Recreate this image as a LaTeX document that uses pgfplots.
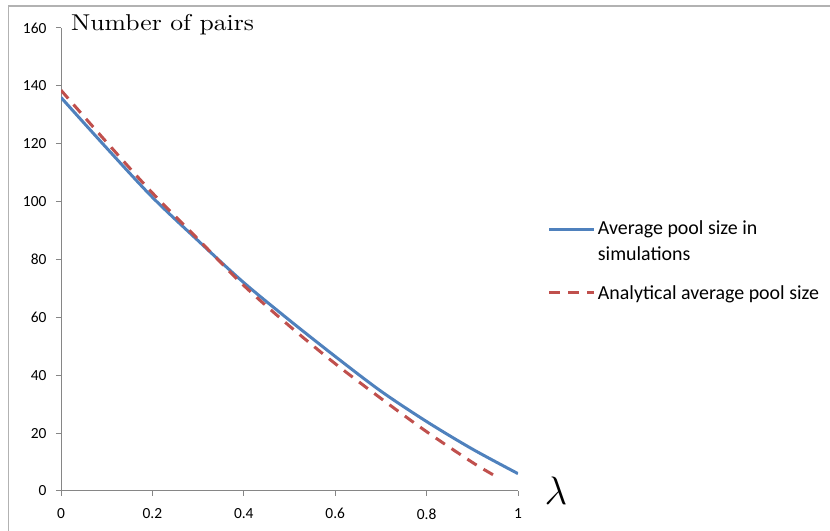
\documentclass[border=0pt]{standalone}
\usepackage{pgfplots}
\pgfplotsset{compat=1.18}
\usepackage{graphicx}
\usepackage{fontspec}
\newfontfamily\calibri{Carlito}
\newfontfamily\lmten{lmroman10-regular.otf}
\definecolor{simblue}{HTML}{4F81BD}
\definecolor{anared}{HTML}{C0504D}
\definecolor{axisgray}{HTML}{868686}
\begin{document}
\begin{tikzpicture}
\useasboundingbox (0,0) rectangle (830bp,531bp);
% chart frame (top and left edges only are visible)
\draw[gray!60, line width=1.2bp] (8.5bp,0bp) -- (8.5bp,525bp) -- (830bp,525bp);
\begin{axis}[
    at={(61bp,40bp)}, anchor=south west,
    scale only axis,
    width=457bp, height=463bp,
    xmin=0, xmax=1, ymin=0, ymax=160,
    xtick={0,0.2,...,1}, ytick={0,20,...,160},
    axis x line*=bottom, axis y line*=left,
    axis line style={axisgray, line width=1bp, -},
    tick style={axisgray, line width=1bp},
    tick align=outside,
    major tick length=5bp,
    /pgf/number format/assume math mode=true,
    tick label style={font=\calibri\fontsize{15.5}{15.5}\selectfont, black},
    yticklabel style={xshift=-6bp},
    xticklabel style={yshift=-9bp},
    xlabel={\scalebox{1.6}{\fontsize{24.88}{25}\selectfont$\lambda$}},
    xlabel style={at={(axis description cs:1.083,0.0)}, anchor=center},
    legend style={at={(axis description cs:1.065,0.592)}, anchor=north west,
        draw=none, fill=none, font=\calibri\fontsize{20}{26}\selectfont,
        cells={align=left, anchor=west}, row sep=19bp,
        inner xsep=0pt},
    legend image code/.code={\draw[#1] (0bp,0bp) -- (45bp,0bp);},
]
\addplot[simblue, line width=3bp, smooth,
    legend image code/.code={\draw[simblue, line width=3bp] (0bp,12bp) -- (45bp,12bp);}] coordinates {
    (0,136) (0.1,118.5) (0.2,101.5) (0.3,86.5) (0.4,72) (0.5,59)
    (0.6,46.5) (0.7,34.5) (0.8,24) (0.9,14.5) (1,6)
};
\addlegendentry{Average pool size in\\simulations}
\addplot[anared, line width=3bp, smooth, dash pattern=on 11bp off 8bp] coordinates {
    (0,138.5) (0.1,120.5) (0.2,103) (0.3,87) (0.4,71) (0.5,57)
    (0.6,44) (0.7,32) (0.8,20.5) (0.9,9.9) (0.95,5.2)
};
\addlegendentry{Analytical average pool size}
\end{axis}
% y-axis title, set at the top left of the plot area
\node[anchor=base west, inner sep=0pt] at (71bp,500bp)
    {\scalebox{1.12}[1]{\lmten\fontsize{23}{23}\selectfont Number of pairs}};
\end{tikzpicture}
\end{document}
